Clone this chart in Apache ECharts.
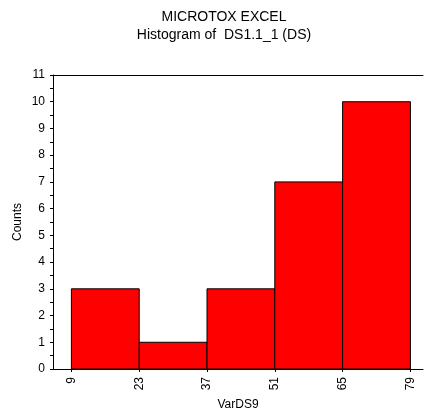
<!DOCTYPE html>
<html>
<head>
<meta charset="utf-8">
<style>
  html, body { margin: 0; padding: 0; background: #fff; }
  #chart { width: 424px; height: 412px; }
</style>
<script src="https://cdn.jsdelivr.net/npm/echarts@6/dist/echarts.min.js"></script>
</head>
<body>
<div id="chart"></div>
<script>
// Histogram bins: lower edge, upper edge, count
var binStarts = [9, 23, 37, 51, 65];
var binEnds = [23, 37, 51, 65, 79];
var counts = [3, 1, 3, 7, 10];
// Tick positions along the bottom axis (bin edges)
var xTicks = [9, 23, 37, 51, 65, 79];

var FONT = '"Liberation Sans", Arial, sans-serif';

var binData = binStarts.map(function (s, i) { return [s, binEnds[i], counts[i]]; });

var chart = echarts.init(document.getElementById('chart'), null, { renderer: 'canvas' });

chart.setOption({
  animation: false,
  backgroundColor: '#ffffff',
  title: {
    text: 'MICROTOX EXCEL\nHistogram of  DS1.1_1 (DS)',
    left: 219,
    textAlign: 'center',
    top: 3,
    textStyle: {
      fontFamily: FONT,
      fontSize: 14,
      fontWeight: 'normal',
      color: '#000',
      lineHeight: 18
    }
  },
  grid: { left: 53, right: 1, top: 75, bottom: 43, outerBoundsMode: 'none', containLabel: false },
  xAxis: [{
    type: 'value',
    min: 5.2,
    max: 81.6,
    name: 'VarDS9',
    nameLocation: 'middle',
    nameGap: 30,
    nameMoveOverlap: false,
    nameTextStyle: { fontFamily: FONT, fontSize: 12, color: '#000' },
    axisLine: { show: true, lineStyle: { color: '#000', width: 1 } },
    axisTick: { show: true, length: 3, customValues: xTicks, lineStyle: { color: '#000' } },
    axisLabel: {
      customValues: xTicks,
      rotate: 90,
      margin: 8,
      fontFamily: FONT,
      fontSize: 12,
      color: '#000'
    },
    splitLine: { show: false }
  }, {
    // top frame line at the upper end of the count axis
    type: 'value',
    position: 'top',
    min: 5.2,
    max: 81.6,
    axisLine: { show: true, lineStyle: { color: '#000', width: 1 } },
    axisTick: { show: false },
    axisLabel: { show: false },
    splitLine: { show: false }
  }],
  yAxis: {
    type: 'value',
    min: 0,
    max: 11,
    interval: 1,
    name: 'Counts',
    nameLocation: 'middle',
    nameGap: 29,
    nameMoveOverlap: false,
    nameTextStyle: { fontFamily: FONT, fontSize: 12, color: '#000' },
    axisLine: { show: true, lineStyle: { color: '#000', width: 1 } },
    axisTick: { show: true, length: 3, lineStyle: { color: '#000' } },
    minorTick: { show: true, splitNumber: 2, length: 3, lineStyle: { color: '#000' } },
    axisLabel: { margin: 8, fontFamily: FONT, fontSize: 12, color: '#000' },
    splitLine: { show: false }
  },
  series: [{
    type: 'custom',
    xAxisIndex: 0,
    yAxisIndex: 0,
    data: binData,
    encode: { x: [0, 1], y: 2 },
    renderItem: function (params, api) {
      var p0 = api.coord([api.value(0), api.value(2)]);
      var p1 = api.coord([api.value(1), 0]);
      return {
        type: 'rect',
        shape: { x: p0[0], y: p0[1], width: p1[0] - p0[0], height: p1[1] - p0[1] },
        style: { fill: '#ff0000', stroke: '#000000', lineWidth: 1 }
      };
    }
  }]
});
</script>
</body>
</html>
